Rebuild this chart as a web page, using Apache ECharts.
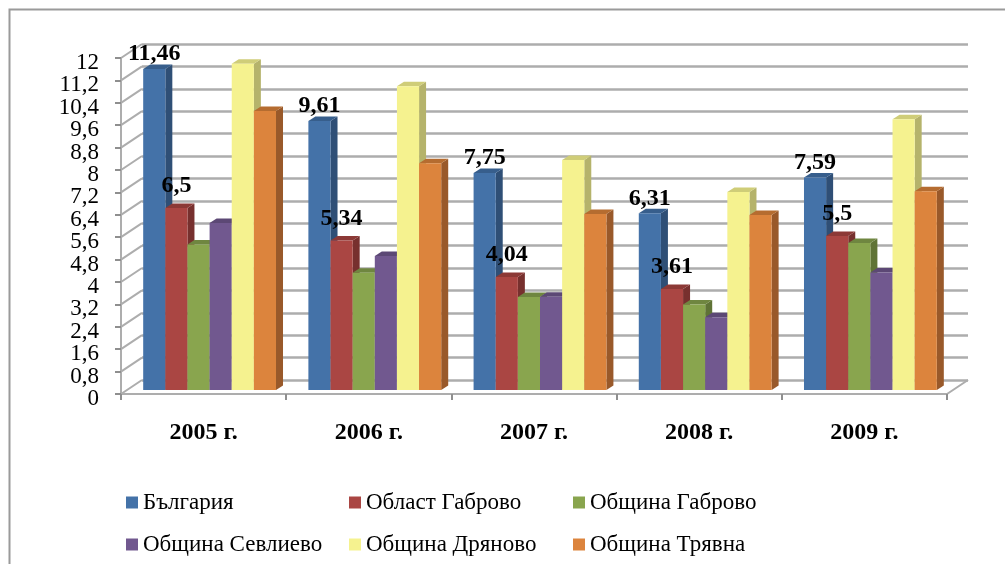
<!DOCTYPE html>
<html>
<head>
<meta charset="utf-8">
<style>
html,body{margin:0;padding:0;background:#fff;overflow:hidden}
#c{width:1005px;height:564px;filter:blur(0.6px)}
</style>
<script src="https://cdn.jsdelivr.net/npm/echarts@6/dist/echarts.min.js"></script>
</head>
<body>
<div id="c"></div>
<script>
const categories = ['2005 г.', '2006 г.', '2007 г.', '2008 г.', '2009 г.'];
const seriesNames = ['България', 'Област Габрово', 'Община Габрово', 'Община Севлиево', 'Община Дряново', 'Община Трявна'];
const bulgaria = [11.46, 9.61, 7.75, 6.31, 7.59];
const oblastGabrovo = [6.5, 5.34, 4.04, 3.61, 5.5];
const obshtinaGabrovo = [5.2, 4.19, 3.32, 3.05, 5.25];
const obshtinaSevlievo = [5.96, 4.79, 3.33, 2.6, 4.2];
const obshtinaDryanovo = [11.65, 10.85, 8.21, 7.07, 9.67];
const obshtinaTryavna = [9.96, 8.1, 6.29, 6.25, 7.1];
const yTicks = [0, 0.8, 1.6, 2.4, 3.2, 4, 4.8, 5.6, 6.4, 7.2, 8, 8.8, 9.6, 10.4, 11.2, 12];

const values = [bulgaria, oblastGabrovo, obshtinaGabrovo, obshtinaSevlievo, obshtinaDryanovo, obshtinaTryavna];
const faceColors = ['#4472A8', '#AA4643', '#89A54E', '#71588F', '#F5F28F', '#DC843D'];
const sideColors = ['#2F4F76', '#77302E', '#5F7336', '#4E3D64', '#B5B36B', '#99592A'];
const topColors  = ['#375E8C', '#8C3936', '#6F8640', '#5C4875', '#CFCD78', '#B56C30'];
const labelLift = [15, 22];
const DEPTH_X = 21, DEPTH_Y = 14, BAR_DX = 7, BAR_DY = 4.5;
const fontFamily = '"Liberation Serif","Times New Roman",serif';
const gridColor = '#adadad';

const comma = v => String(v).replace('.', ',');

function barRenderer(si) {
  return function (params, api) {
    const cat = api.value(0), val = api.value(1);
    const band = api.size([1, 0])[0];
    const w = band * 0.134;
    const c0 = api.coord([cat, 0]);
    const c1 = api.coord([cat, val]);
    const x = c0[0] + 6 - 3 * w + si * w;
    const yb = c0[1] - 4, yt = c1[1] - 4;
    const children = [
      { type: 'polygon', shape: { points: [[x + w, yt], [x + w + BAR_DX, yt - BAR_DY], [x + w + BAR_DX, yb - BAR_DY], [x + w, yb]] }, style: { fill: sideColors[si] } },
      { type: 'polygon', shape: { points: [[x, yt], [x + BAR_DX, yt - BAR_DY], [x + w + BAR_DX, yt - BAR_DY], [x + w, yt]] }, style: { fill: topColors[si] } },
      { type: 'rect', shape: { x: x, y: yt, width: w, height: yb - yt }, style: { fill: faceColors[si] } }
    ];
    if (si < labelLift.length) {
      children.push({
        type: 'text', z2: 100,
        style: {
          x: x + w / 2, y: yt - labelLift[si], text: comma(val),
          align: 'center', verticalAlign: 'middle',
          font: 'bold 24px ' + fontFamily, fill: '#000'
        }
      });
    }
    return { type: 'group', children: children };
  };
}

function wallRenderer(params, api) {
  const band = api.size([1, 0])[0];
  const v = api.value(0);
  const p = api.coord([0, v]);
  const x = p[0] - band / 2;
  const parts = [
    { type: 'line', shape: { x1: x, y1: p[1], x2: x + DEPTH_X, y2: p[1] - DEPTH_Y }, style: { stroke: gridColor, lineWidth: 2 } },
    { type: 'text', style: { x: x - 22, y: p[1] + 5, text: comma(v), align: 'right', verticalAlign: 'middle', font: '23px ' + fontFamily, fill: '#000' } }
  ];
  if (v === 0) {
    const xr = x + band * categories.length;
    parts.push({ type: 'line', shape: { x1: xr, y1: p[1], x2: xr + DEPTH_X, y2: p[1] - DEPTH_Y }, style: { stroke: gridColor, lineWidth: 2 } });
  }
  return { type: 'group', children: parts };
}

const series = [{
  type: 'custom', silent: true, z: 1, xAxisIndex: 0, yAxisIndex: 0, clip: false,
  data: yTicks.map(v => [v]), encode: { y: 0 }, renderItem: wallRenderer
}];
seriesNames.forEach((name, si) => {
  series.push({
    name: name, type: 'custom', z: 3, xAxisIndex: 0, yAxisIndex: 0, clip: false,
    itemStyle: { color: faceColors[si] },
    data: values[si].map((v, c) => [c, v]),
    encode: { x: 0, y: 1 },
    renderItem: barRenderer(si)
  });
});

function legendColumn(left, names) {
  return {
    left: left, top: 488, height: 74, orient: 'vertical', padding: 0,
    itemWidth: 12, itemHeight: 12, itemGap: 13, icon: 'rect',
    selectedMode: false,
    textStyle: { fontFamily: fontFamily, fontSize: 23, color: '#000', padding: [5, 0, 0, 0], lineHeight: 24 },
    data: names
  };
}

const chart = echarts.init(document.getElementById('c'), null, { renderer: 'canvas' });
chart.setOption({
  animation: false,
  backgroundColor: '#fff',
  graphic: [
    { type: 'polyline', silent: true, shape: { points: [[9.5, 564], [9.5, 9.5], [1005, 9.5]] }, style: { stroke: '#9a9a9a', lineWidth: 2, fill: null } }
  ],
  legend: [
    legendColumn(126, [seriesNames[0], seriesNames[3]]),
    legendColumn(349, [seriesNames[1], seriesNames[4]]),
    legendColumn(573, [seriesNames[2], seriesNames[5]])
  ],
  grid: [
    { left: 121, top: 58, width: 826, height: 336, containLabel: false },
    { left: 142, top: 44, width: 826, height: 336, containLabel: false }
  ],
  xAxis: [
    {
      type: 'category', gridIndex: 0, data: categories, z: 2,
      axisLine: { show: true, lineStyle: { color: gridColor, width: 2 } },
      axisTick: { show: true, length: 6, alignWithLabel: false, lineStyle: { color: '#8f8f8f', width: 2 } },
      axisLabel: { fontFamily: fontFamily, fontWeight: 'bold', fontSize: 24, color: '#000', margin: 27 }
    },
    { type: 'category', gridIndex: 1, data: categories, show: false }
  ],
  yAxis: [
    {
      type: 'value', gridIndex: 0, min: 0, max: 12, interval: 0.8, z: 2,
      splitLine: { show: false },
      axisLine: { show: true, lineStyle: { color: gridColor, width: 2 } },
      axisTick: { show: true, length: 6, lineStyle: { color: '#8f8f8f', width: 2 } },
      axisLabel: { show: false }
    },
    {
      type: 'value', gridIndex: 1, min: 0, max: 12, interval: 0.8, z: 0,
      axisLine: { show: false }, axisTick: { show: false }, axisLabel: { show: false },
      splitLine: { show: true, lineStyle: { color: gridColor, width: 2.5 } }
    }
  ],
  series: series
});
</script>
</body>
</html>
